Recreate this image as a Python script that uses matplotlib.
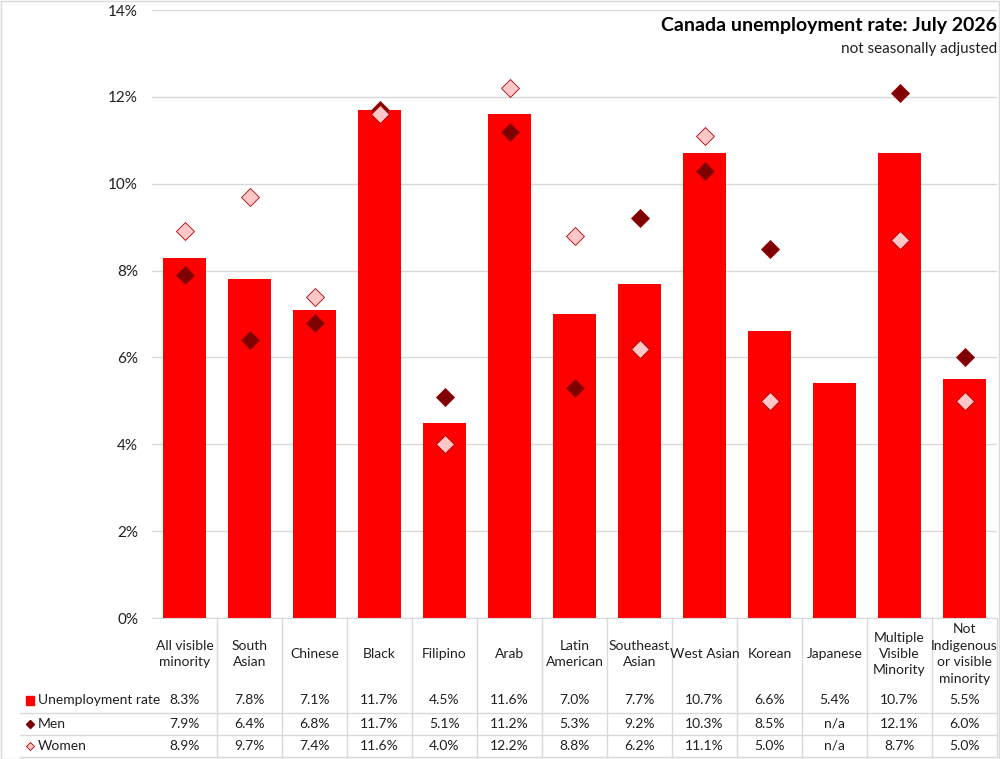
import numpy as np
import matplotlib.pyplot as plt
from matplotlib.lines import Line2D
from matplotlib.patches import Rectangle
import matplotlib.transforms as mtransforms

plt.rcParams['font.family'] = ['Lato', 'DejaVu Sans']

categories = ["All visible\nminority", "South\nAsian", "Chinese", "Black", "Filipino",
              "Arab", "Latin\nAmerican", "Southeast\nAsian", "West Asian", "Korean",
              "Japanese", "Multiple\nVisible\nMinority",
              "Not\nIndigenous\nor visible\nminority"]
rate = [8.3, 7.8, 7.1, 11.7, 4.5, 11.6, 7.0, 7.7, 10.7, 6.6, 5.4, 10.7, 5.5]
men = [7.9, 6.4, 6.8, 11.7, 5.1, 11.2, 5.3, 9.2, 10.3, 8.5, np.nan, 12.1, 6.0]
women = [8.9, 9.7, 7.4, 11.6, 4.0, 12.2, 8.8, 6.2, 11.1, 5.0, np.nan, 8.7, 5.0]

BAR = "#ff0000"
MEN = "#7f0000"
WOMEN = "#ffc7c7"
GRID = "#d9d9d9"
TXT = "#202020"

W, H = 1000, 759
fig = plt.figure(figsize=(W / 100, H / 100), dpi=100)
ax = fig.add_axes([152 / W, 1 - 618 / H, 845 / W, 608 / H])

x = np.arange(len(categories))
ax.bar(x, rate, width=0.66, color=BAR, zorder=2)
ax.plot(x, men, ls="none", marker="D", ms=9.5, mfc=MEN, mec="#a00000", mew=0.6, zorder=3)
ax.plot(x, women, ls="none", marker="D", ms=9.5, mfc=WOMEN, mec="#b00000", mew=0.6, zorder=3)

ax.set_xlim(-0.5, len(categories) - 0.5)
ax.set_ylim(0, 14)
ax.set_yticks(np.arange(0, 15, 2))
ax.set_yticklabels(["%d%%" % v for v in range(0, 15, 2)], fontsize=11, color=TXT)
ax.yaxis.grid(True, color=GRID, lw=1, zorder=0)
ax.set_xticks([])
ax.tick_params(axis="y", length=0, pad=10)
for s in ["top", "right", "left"]:
    ax.spines[s].set_visible(False)
ax.spines["bottom"].set_color(GRID)

# title
fig.text(997 / W, 1 - 25 / H, "Canada unemployment rate: July 2026", ha="right", va="center",
         fontsize=14, fontweight="bold", color="black")
fig.text(997 / W, 1 - 49 / H, "not seasonally adjusted", ha="right", va="center",
         fontsize=11, color=TXT)

# data table
trans = mtransforms.blended_transform_factory(ax.transData, fig.transFigure)
fy = lambda py: 1 - py / H
for i in range(1, len(categories) + 1):
    ax.add_line(Line2D([i - 0.5, i - 0.5], [fy(618), fy(757)], transform=trans,
                       color=GRID, lw=1, clip_on=False))
for py in [713, 735, 757]:
    fig.add_artist(Line2D([20 / W, 997 / W], [fy(py), fy(py)], color=GRID, lw=1))

rows = [rate, men, women]
row_y = [700, 724, 746]
for i, lab in enumerate(categories):
    ax.text(i, fy(654), lab, transform=trans, ha="center", va="center",
            fontsize=10, color=TXT, linespacing=1.45)
    for vals, py in zip(rows, row_y):
        v = vals[i]
        s = "n/a" if np.isnan(v) else "%.1f%%" % v
        ax.text(i, fy(py), s, transform=trans, ha="center", va="center",
                fontsize=10, color=TXT)

names = ["Unemployment rate", "Men", "Women"]
for name, py in zip(names, row_y):
    fig.text(38 / W, fy(py), name, ha="left", va="center", fontsize=10, color=TXT)
fig.add_artist(Rectangle((26 / W, fy(705)), 8 / W, 9 / H, color=BAR))
fig.add_artist(Line2D([30 / W], [fy(724)], marker="D", ms=4, mfc=MEN, mec=MEN, ls="none"))
fig.add_artist(Line2D([30 / W], [fy(746)], marker="D", ms=4, mfc=WOMEN, mec="#b00000",
                      mew=0.6, ls="none"))

# border
fig.add_artist(Rectangle((0.5 / W, 0.5 / H), (W - 1.5) / W, (H - 1.5) / H, fill=False,
                         ec=GRID, lw=1))

fig.savefig("out.png", dpi=100)
